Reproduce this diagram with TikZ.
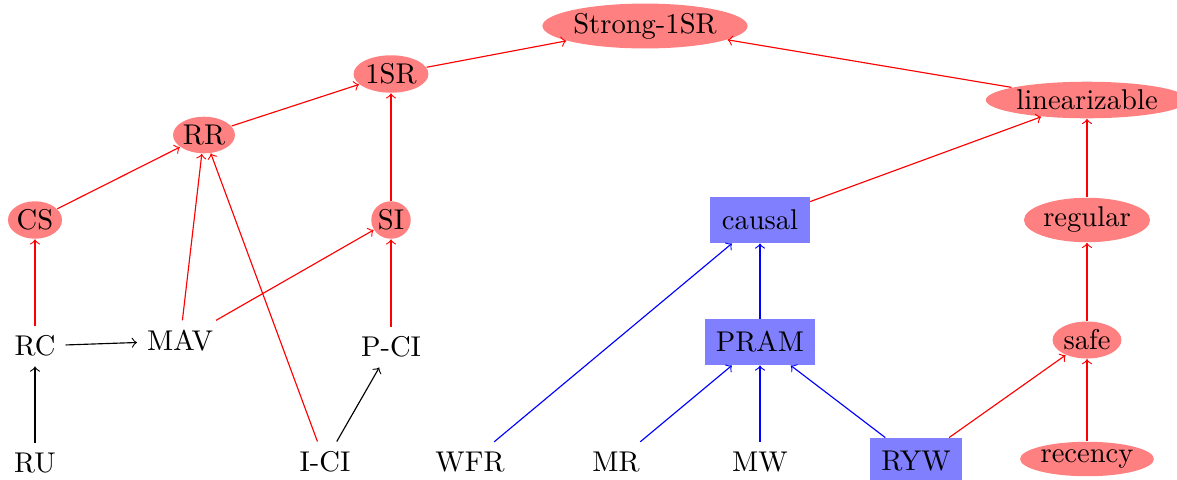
\documentclass[tikz,border=0pt]{standalone}
\usetikzlibrary{shapes.geometric}
\begin{document}
\begin{tikzpicture}[x=0.35pt,y=-0.35pt,
  ell/.style={ellipse, fill=red!50, inner xsep=0.3pt, inner ysep=1pt},
  box/.style={rectangle, fill=blue!50, minimum height=16pt, inner xsep=4pt},
  txt/.style={},
  rarr/.style={->, red},
  barr/.style={->, blue},
  karr/.style={->, black}]
\useasboundingbox (0,0) rectangle (1177,479);
% nodes
\node[ell] (strong) at (645,26) {Strong-1SR};
\node[ell] (onesr) at (391,74) {1SR};
\node[ell] (rr) at (204,135) {RR};
\node[ell] (cs) at (35,220) {CS};
\node[ell] (si) at (391,220) {SI};
\node[ell] (lin) at (1087,100) {linearizable};
\node[box] (causal) at (760,220) {causal};
\node[ell] (regular) at (1087,220) {regular};
\node[txt] (rc) at (35,346) {RC};
\node[txt] (mav) at (180,341) {MAV};
\node[txt] (pci) at (391,347) {P-CI};
\node[box] (pram) at (760,342) {PRAM};
\node[ell] (safe) at (1087,340) {safe};
\node[txt] (ru) at (35,463) {RU};
\node[txt] (ici) at (325,462) {I-CI};
\node[txt] (wfr) at (470,462) {WFR};
\node[txt] (mr) at (616,462) {MR};
\node[txt] (mw) at (760,462) {MW};
\node[box] (ryw) at (916,461) {RYW};
\node[ell] (recency) at (1087,459) {recency};
% red edges
\draw[rarr] (onesr) -- (strong);
\draw[rarr] (lin) -- (strong);
\draw[rarr] (rr) -- (onesr);
\draw[rarr] (si) -- (onesr);
\draw[rarr] (cs) -- (rr);
\draw[rarr] (mav) -- (rr);
\draw[rarr] (ici) -- (rr);
\draw[rarr] (mav) -- (si);
\draw[rarr] (pci) -- (si);
\draw[rarr] (rc) -- (cs);
\draw[rarr] (causal) -- (lin);
\draw[rarr] (regular) -- (lin);
\draw[rarr] (safe) -- (regular);
\draw[rarr] (recency) -- (safe);
\draw[rarr] (ryw) -- (safe);
% black edges
\draw[karr] (ru) -- (rc);
\draw[karr] (rc) -- (mav);
\draw[karr] (ici) -- (pci);
% blue edges
\draw[barr] (wfr) -- (causal);
\draw[barr] (pram) -- (causal);
\draw[barr] (mr) -- (pram);
\draw[barr] (mw) -- (pram);
\draw[barr] (ryw) -- (pram);
\end{tikzpicture}
\end{document}
